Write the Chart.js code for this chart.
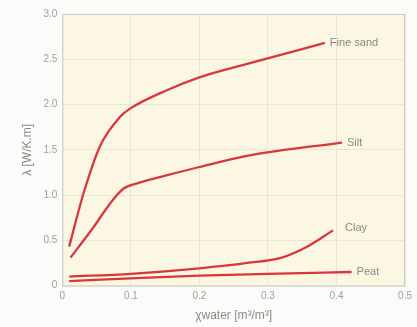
<!DOCTYPE html>
<html>
<head>
<meta charset="utf-8">
<script src="https://cdn.jsdelivr.net/npm/chart.js@4/dist/chart.umd.min.js"></script>
<style>
html,body{margin:0;padding:0;background:#fbfbf9;}
#wrap{width:417px;height:327px;}
</style>
</head>
<body>
<div id="wrap"><canvas id="c" width="417" height="327"></canvas></div>
<script>
const seriesNames = ["Fine sand", "Silt", "Clay", "Peat"];
const fineSandX = [0.010, 0.031, 0.055, 0.085, 0.100, 0.150, 0.200, 0.275, 0.383];
const fineSandY = [0.43, 1.02, 1.54, 1.87, 1.96, 2.15, 2.30, 2.46, 2.68];
const siltX = [0.012, 0.046, 0.070, 0.089, 0.109, 0.153, 0.200, 0.275, 0.408];
const siltY = [0.31, 0.65, 0.91, 1.07, 1.13, 1.22, 1.31, 1.44, 1.58];
const clayX = [0.010, 0.100, 0.200, 0.270, 0.320, 0.357, 0.395];
const clayY = [0.10, 0.13, 0.19, 0.25, 0.31, 0.43, 0.61];
const peatX = [0.010, 0.100, 0.200, 0.300, 0.422];
const peatY = [0.05, 0.08, 0.11, 0.13, 0.15];
const xTicks = [0, 0.1, 0.2, 0.3, 0.4, 0.5];
const yTicks = [0, 0.5, 1.0, 1.5, 2.0, 2.5, 3.0];

const toPts = (xs, ys) => xs.map((x, i) => ({x: x, y: ys[i]}));
const lineColor = '#d8383c';
const allSeries = [[fineSandX, fineSandY], [siltX, siltY], [clayX, clayY], [peatX, peatY]];

const datasets = allSeries.map((s, i) => ({
  label: seriesNames[i],
  data: toPts(s[0], s[1]),
  borderColor: lineColor,
  borderWidth: 2.3,
  pointRadius: 0,
  fill: false,
  cubicInterpolationMode: 'monotone'
}));

const labelOffsets = [{dx: 5, dy: 0}, {dx: 5, dy: 0}, {dx: 12, dy: -2}, {dx: 5, dy: 0}];

const bgPlugin = {
  id: 'bg',
  beforeDraw(chart) {
    const {ctx, chartArea: a} = chart;
    ctx.save();
    ctx.fillStyle = '#fcf7e2';
    ctx.fillRect(a.left, a.top, a.right - a.left, a.bottom - a.top);
    ctx.restore();
  },
  afterDraw(chart) {
    const {ctx, chartArea: a} = chart;
    ctx.save();
    ctx.strokeStyle = '#c9c8bf';
    ctx.lineWidth = 1;
    ctx.strokeRect(a.left + 0.5, a.top + 0.5, a.right - a.left - 1, a.bottom - a.top);
    ctx.restore();
  }
};

const endLabels = {
  id: 'endLabels',
  afterDatasetsDraw(chart) {
    const ctx = chart.ctx;
    ctx.save();
    ctx.font = '11px "Liberation Sans", Arial, sans-serif';
    ctx.fillStyle = '#8a8a86';
    ctx.textBaseline = 'middle';
    ctx.textAlign = 'left';
    chart.data.datasets.forEach((ds, i) => {
      const meta = chart.getDatasetMeta(i);
      const last = meta.data[meta.data.length - 1];
      const o = labelOffsets[i];
      ctx.fillText(ds.label, last.x + o.dx, last.y + o.dy);
    });
    ctx.restore();
  }
};

new Chart(document.getElementById('c'), {
  type: 'line',
  data: {datasets: datasets},
  options: {
    responsive: false,
    animation: false,
    layout: {padding: {left: 20, right: 6, top: 14, bottom: 4}},
    plugins: {legend: {display: false}, tooltip: {enabled: false}},
    scales: {
      x: {
        type: 'linear',
        min: 0, max: 0.5,
        afterBuildTicks(scale) { scale.ticks = xTicks.map(v => ({value: v})); },
        grid: {color: '#ebe7d3', drawTicks: false},
        border: {display: false},
        ticks: {
          color: '#a0a09a',
          font: {size: 10, family: '"Liberation Sans", Arial, sans-serif'},
          padding: 5,
          callback: v => v === 0 ? '0' : v.toFixed(1)
        },
        title: {
          display: true,
          text: 'χwater [m³/m³]',
          color: '#8a8a86',
          font: {size: 12, family: '"Liberation Sans", Arial, sans-serif'},
          padding: {top: 1, bottom: 0}
        }
      },
      y: {
        min: 0, max: 3,
        afterBuildTicks(scale) { scale.ticks = yTicks.map(v => ({value: v})); },
        grid: {color: '#ebe7d3', drawTicks: false},
        border: {display: false},
        ticks: {
          color: '#a0a09a',
          font: {size: 10, family: '"Liberation Sans", Arial, sans-serif'},
          padding: 5,
          callback: v => v === 0 ? '0' : v.toFixed(1)
        },
        title: {
          display: true,
          text: 'λ [W/K.m]',
          color: '#8a8a86',
          font: {size: 12, family: '"Liberation Sans", Arial, sans-serif'},
          padding: {top: 0, bottom: 4}
        }
      }
    }
  },
  plugins: [bgPlugin, endLabels]
});
</script>
</body>
</html>
